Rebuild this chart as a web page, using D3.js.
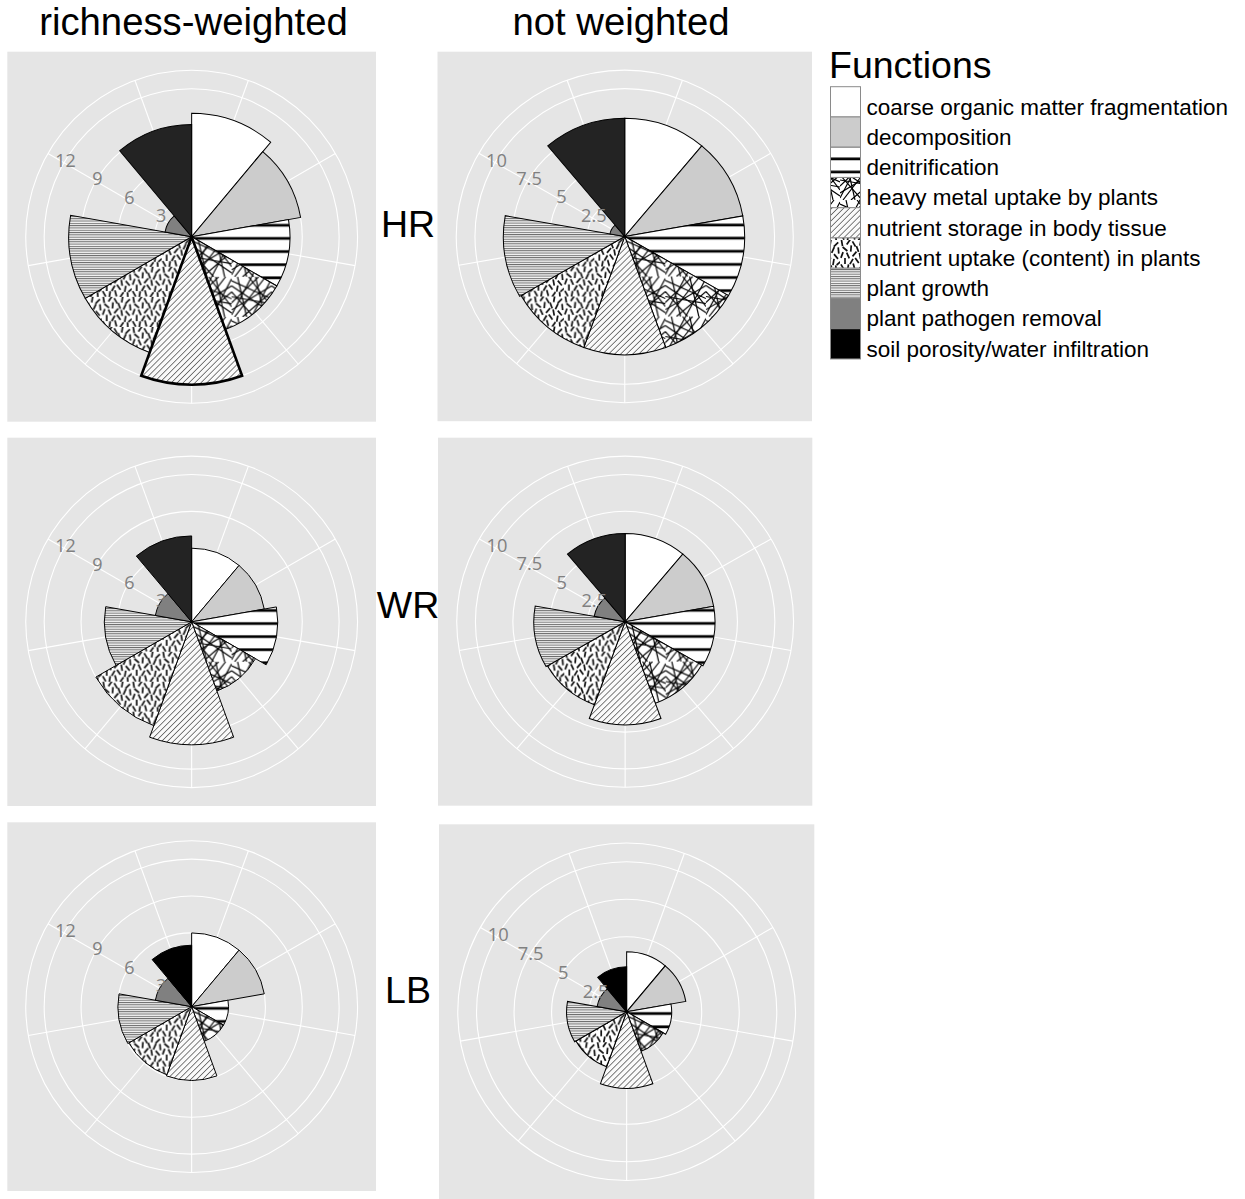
<!DOCTYPE html>
<html><head><meta charset="utf-8">
<script src="https://cdn.jsdelivr.net/npm/d3@7"></script>
<style>body{margin:0;background:#fff} svg{display:block}</style>
</head><body>
<svg id="chart" width="1245" height="1199"></svg>
<script>
// ---------- data ----------
const functions = [
  "coarse organic matter fragmentation",
  "decomposition",
  "denitrification",
  "heavy metal uptake by plants",
  "nutrient storage in body tissue",
  "nutrient uptake (content) in plants",
  "plant growth",
  "plant pathogen removal",
  "soil porosity/water infiltration"
];
const columns = ["richness-weighted", "not weighted"];
const regions = ["HR", "WR", "LB"];
// values in the order of `functions`
const weightedHR   = [10, 9, 8, 8, 12, 10, 10, 2.2, 9.1];
const weightedWR   = [6, 6, 7, 6, 10, 9, 7.1, 3, 7];
const weightedLB   = [6, 6, 3, 3, 6, 5.9, 6, 3, 5];
const unweightedHR = [8, 8, 8, 8, 8, 8, 8.1, 1, 8];
const unweightedWR = [6, 6, 6, 5.9, 7, 6, 6.1, 2.1, 6];
const unweightedLB = [4, 4, 3, 2.8, 5.1, 3.9, 4, 2, 3];
const weightedTicks = [3, 6, 9, 12];
const unweightedTicks = [2.5, 5, 7.5, 10];
const weightedMax = 12;
const unweightedMax = 10;

// ---------- layout / style ----------
const S = 369;
const panelBoxes = [
  [[7.3, 51.7, 368.7, 370], [437.5, 51.7, 374.5, 369.5]],
  [[7.3, 437.7, 368.7, 368.3], [438, 437.7, 374.3, 368]],
  [[7.3, 822.3, 368.7, 368.7], [439, 824.3, 375.3, 375]]
];
const rowLabelBaseline = [237, 618, 1003];
const soilFillByRow = ["#232323", "#232323", "#000000"];
const fills = ["#ffffff", "#cccccc", "url(#pDenit)", "url(#pHeavy)", "url(#pStorage)",
               "url(#pUptake)", "url(#pGrowth)", "#808080", null];
const FONT = "'Liberation Sans', Arial, sans-serif";

const svg = d3.select("#chart");
const defs = svg.append("defs");

// denitrification: thick horizontal lines
{
  const p = defs.append("pattern").attr("id", "pDenit").attr("patternUnits", "userSpaceOnUse")
    .attr("x", 0).attr("y", 0).attr("width", 20).attr("height", 13.1);
  p.append("rect").attr("width", 20).attr("height", 13.1).attr("fill", "#fff");
  p.append("rect").attr("x", 0).attr("y", 0.35).attr("width", 20).attr("height", 2.7).attr("fill", "#000");
}
// heavy metal: criss-cross lines
{
  const T = 40;
  const p = defs.append("pattern").attr("id", "pHeavy").attr("patternUnits", "userSpaceOnUse")
    .attr("width", T).attr("height", T);
  p.append("rect").attr("width", T).attr("height", T).attr("fill", "#fff");
  const segs = [[0,4,40,22],[0,33,40,9],[6,0,15,40],[24,0,33,40],[0,15,22,40],
                [17,0,40,30],[0,26,27,0],[11,40,40,15],[34,0,3,40],[0,9,40,36],
                [0,38,20,0],[20,40,40,2],[0,20,40,27]];
  p.selectAll("line").data(segs).join("line")
    .attr("x1", d => d[0]).attr("y1", d => d[1]).attr("x2", d => d[2]).attr("y2", d => d[3])
    .attr("stroke", "#000").attr("stroke-width", 1.15);
}
// nutrient storage: diagonal hatch
{
  const p = defs.append("pattern").attr("id", "pStorage").attr("patternUnits", "userSpaceOnUse")
    .attr("width", 4.2).attr("height", 10).attr("patternTransform", "rotate(45)");
  p.append("rect").attr("width", 4.2).attr("height", 10).attr("fill", "#fafafa");
  p.append("rect").attr("x", 0).attr("y", 0).attr("width", 0.75).attr("height", 10).attr("fill", "#555");
}
// nutrient uptake: short scattered dashes
{
  const T = 30;
  const p = defs.append("pattern").attr("id", "pUptake").attr("patternUnits", "userSpaceOnUse")
    .attr("width", T).attr("height", T);
  p.append("rect").attr("width", T).attr("height", T).attr("fill", "#fff");
  const dashes = [
    [2,3,80],[8.5,2,125],[14,4,60],[20.5,2.5,100],[26,4.5,135],
    [5,9,40],[11,8.5,95],[17.5,9,70],[23,10,115],[28.5,10.5,85],
    [2,15,110],[8,15.5,65],[14.5,14,130],[20,16,80],[26,16.5,50],
    [5,21,90],[11.5,21.5,120],[17,20.5,55],[23.5,22,100],[29,23,140],
    [2.5,27,60],[8,27.5,100],[14,26.5,75],[20,28,125],[26,28.5,85]
  ];
  const L = 3.1;
  p.selectAll("line").data(dashes).join("line")
    .attr("x1", d => d[0] - L * Math.cos(d[2] * Math.PI / 180))
    .attr("y1", d => d[1] - L * Math.sin(d[2] * Math.PI / 180))
    .attr("x2", d => d[0] + L * Math.cos(d[2] * Math.PI / 180))
    .attr("y2", d => d[1] + L * Math.sin(d[2] * Math.PI / 180))
    .attr("stroke", "#111").attr("stroke-width", 1.7);
}
// plant growth: fine horizontal lines
{
  const p = defs.append("pattern").attr("id", "pGrowth").attr("patternUnits", "userSpaceOnUse")
    .attr("width", 10).attr("height", 2.3);
  p.append("rect").attr("width", 10).attr("height", 2.3).attr("fill", "#f2f2f2");
  p.append("rect").attr("y", 0).attr("width", 10).attr("height", 0.95).attr("fill", "#6a6a6a");
}

// ---------- titles ----------
const colCenters = [193.5, 621];
columns.forEach((c, j) => {
  svg.append("text").attr("x", colCenters[j]).attr("y", 35).attr("text-anchor", "middle")
    .attr("font-family", FONT).attr("font-size", 38.3).attr("fill", "#000").text(c);
});
regions.forEach((r, i) => {
  svg.append("text").attr("x", 408).attr("y", rowLabelBaseline[i]).attr("text-anchor", "middle")
    .attr("font-family", FONT).attr("font-size", 37.5).attr("fill", "#000").text(r);
});

// ---------- panels ----------
const valuesByPanel = [[weightedHR, unweightedHR], [weightedWR, unweightedWR], [weightedLB, unweightedLB]];
const colScale = [{ max: weightedMax, ticks: weightedTicks }, { max: unweightedMax, ticks: unweightedTicks }];

const theta = d3.scaleBand().domain(functions).range([0, 2 * Math.PI]).paddingInner(0).paddingOuter(0);

valuesByPanel.forEach((rowVals, i) => {
  rowVals.forEach((vals, j) => {
    const [bx, by, bw, bh] = panelBoxes[i][j];
    const g = svg.append("g").attr("transform", `translate(${bx},${by}) scale(${bw / S},${bh / S})`);
    g.append("rect").attr("width", S).attr("height", S).attr("fill", "#e5e5e5");
    const c = g.append("g").attr("transform", `translate(${S / 2},${S / 2})`);
    const r = d3.scaleLinear().domain([0, colScale[j].max]).range([0, 0.4 * S]);
    const outer = 0.45 * S;

    // grid circles
    const circ = colScale[j].ticks.map(t => r(t)).concat([outer]);
    c.selectAll("circle.grid").data(circ).join("circle").attr("class", "grid")
      .attr("r", d => d).attr("fill", "none").attr("stroke", "#fff").attr("stroke-width", 1.1);
    // spokes at category centres
    c.selectAll("line.spoke").data(functions).join("line").attr("class", "spoke")
      .attr("x1", 0).attr("y1", 0)
      .attr("x2", d => outer * Math.sin(theta(d) + theta.bandwidth() / 2))
      .attr("y2", d => -outer * Math.cos(theta(d) + theta.bandwidth() / 2))
      .attr("stroke", "#fff").attr("stroke-width", 1.1);

    // wedges
    const data = functions.map((f, k) => ({ f, k, v: vals[k] }));
    const arc = d3.arc().innerRadius(0).outerRadius(d => r(d.v))
      .startAngle(d => theta(d.f)).endAngle(d => theta(d.f) + theta.bandwidth());
    const thick = (i === 0 && j === 0) ? 4 : -1;
    const ordered = data.filter(d => d.k !== thick).concat(data.filter(d => d.k === thick));
    c.selectAll("path.wedge").data(ordered).join("path").attr("class", "wedge")
      .attr("d", arc)
      .attr("fill", d => d.k === 8 ? soilFillByRow[i] : fills[d.k])
      .attr("stroke", "#000")
      .attr("stroke-width", d => d.k === thick ? 2.6 : 1)
      .attr("stroke-linejoin", "miter");

    // radial tick labels along the 300° spoke
    const a = theta(functions[7]) + theta.bandwidth() / 2;
    c.selectAll("text.tick").data(colScale[j].ticks).join("text").attr("class", "tick")
      .attr("x", d => r(d) * Math.sin(a) + 1.5)
      .attr("y", d => -r(d) * Math.cos(a) - 3)
      .attr("text-anchor", "middle").attr("dominant-baseline", "central")
      .attr("font-family", "'Open Sans', 'Liberation Sans', sans-serif").attr("font-size", 18)
      .attr("fill", "#808080").text(d => String(d));
  });
});

// ---------- legend ----------
const lg = svg.append("g");
lg.append("text").attr("x", 829).attr("y", 78).attr("font-family", FONT).attr("font-size", 37.5)
  .attr("fill", "#000").text("Functions");
const keyH = 30.25;
const legendFill = k => k === 8 ? "#000" : fills[k];
lg.selectAll("rect.key").data(functions).join("rect").attr("class", "key")
  .attr("x", 830.5).attr("y", (d, k) => 86.7 + k * keyH).attr("width", 30).attr("height", keyH)
  .attr("fill", (d, k) => legendFill(k)).attr("stroke", "#8a8a8a").attr("stroke-width", 1);
lg.selectAll("text.lab").data(functions).join("text").attr("class", "lab")
  .attr("x", 866.5).attr("y", (d, k) => 86.7 + k * keyH + 27.8)
  .attr("font-family", FONT).attr("font-size", 22.5).attr("fill", "#000").text(d => d);
</script>
</body></html>
